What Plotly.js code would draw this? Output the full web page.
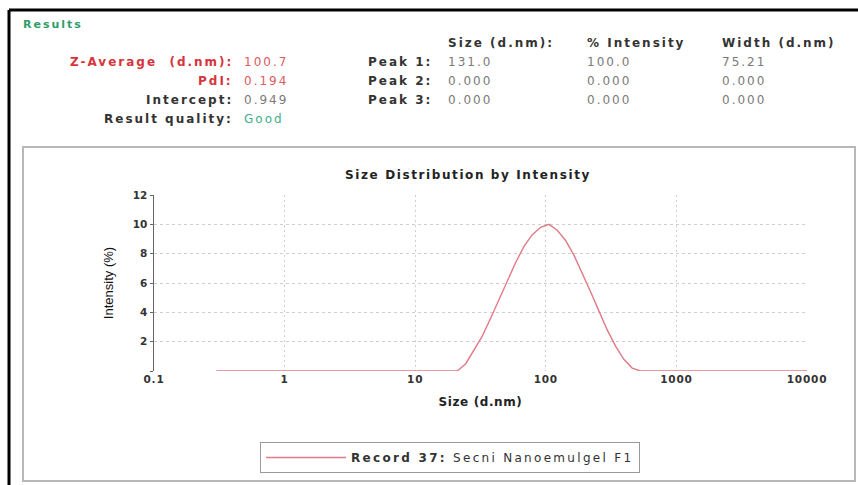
<!DOCTYPE html>
<html>
<head>
<meta charset="utf-8">
<script src="https://cdn.plot.ly/plotly-3.0.1.min.js"></script>
<style>
html,body{margin:0;padding:0;background:#fff;}
#chart{width:858px;height:485px;}
text.annotation-text{letter-spacing:2px;}
text.legendtext{letter-spacing:2.3px;}
text.gtitle{letter-spacing:1.6px;}
text.xtitle{letter-spacing:0.6px;}
g.xtick text{letter-spacing:0.8px;}
</style>
</head>
<body>
<div id="chart"></div>
<script>
// ---- data ----
const sizes = [0.3, 1, 10, 18.2, 21.0, 24.4, 28.2, 32.7, 37.8, 43.8, 50.7, 58.8, 68.1, 78.8, 91.3, 105.7, 122.4, 141.8, 164.2, 190.1, 220.2, 255.0, 295.3, 342.0, 396.1, 458.7, 531.2, 615.1, 1000, 10000];
const intensity = [0, 0, 0, 0, 0, 0.5, 1.4, 2.4, 3.6, 4.9, 6.2, 7.4, 8.5, 9.3, 9.8, 10.0, 9.6, 8.9, 7.9, 6.7, 5.4, 4.1, 2.8, 1.7, 0.8, 0.2, 0, 0, 0, 0];
const seriesName = "<b>Record 37:</b> Secni Nanoemulgel F1";
const xTickVals = [0.1, 1, 10, 100, 1000, 10000];
const xTickText = ["0.1", "1", "10", "100", "1000", "10000"];
const yTickVals = [0, 2, 4, 6, 8, 10, 12];
const yTickText = ["", "2", "4", "6", "8", "10", "12"];

const leftLabels = ["Z-Average\u00a0 (d.nm):", "PdI:", "Intercept:", "Result quality:"];
const leftValues = ["100.7", "0.194", "0.949", "Good"];
const peakLabels = ["Peak 1:", "Peak 2:", "Peak 3:"];
const peakHeaders = ["Size (d.nm):", "% Intensity", "Width (d.nm)"];
const peakSize = ["131.0", "0.000", "0.000"];
const peakIntensity = ["100.0", "0.000", "0.000"];
const peakWidth = ["75.21", "0.000", "0.000"];

// ---- pixel helpers (plot area: x 154..807, y 195..371) ----
const L = 154, R = 807, T = 195, B = 371;
const W = 858, H = 485;
const px = x => (x - L) / (R - L);
const py = y => (B - y) / (B - T);

const FONT = "DejaVu Sans, Verdana, sans-serif";
const ann = [];
function txt(x, y, text, opts) {
  ann.push(Object.assign({
    xref: "paper", yref: "paper", x: px(x), y: py(y), text: text,
    showarrow: false, xanchor: "left", yanchor: "middle",
    font: {family: FONT, size: 12, color: "#333"}
  }, opts || {}));
}

txt(21, 24, "<b>Results</b>", {font: {family: FONT, size: 11, color: "#2f9d6a"}});
const lColors = ["#d7343c", "#d7343c", "#333", "#333"];
const vColors = ["#dc5a62", "#dc5a62", "#7a7a7a", "#43ad8e"];
const rowsY = [62, 81, 100, 119];
leftLabels.forEach((t, i) => {
  txt(235, rowsY[i], "<b>" + t + "</b>", {xanchor: "right", font: {family: FONT, size: 12, color: lColors[i]}});
  txt(242, rowsY[i], leftValues[i], {font: {family: FONT, size: 12, color: vColors[i]}});
});
peakLabels.forEach((t, i) => {
  txt(434, rowsY[i], "<b>" + t + "</b>", {xanchor: "right", font: {family: FONT, size: 12, color: "#333"}});
});
const colX = [446, 585, 720];
peakHeaders.forEach((t, i) => {
  txt(colX[i], 43, "<b>" + t + "</b>", {font: {family: FONT, size: 12, color: "#333"}});
});
[peakSize, peakIntensity, peakWidth].forEach((col, c) => {
  col.forEach((v, i) => txt(colX[c], rowsY[i], v, {font: {family: FONT, size: 12, color: "#7a7a7a"}}));
});

const shapes = [
  // outer black frame (top and left)
  {type: "line", xref: "paper", yref: "paper", x0: px(9), x1: px(858), y0: py(10), y1: py(10), line: {color: "#000", width: 3}},
  {type: "line", xref: "paper", yref: "paper", x0: px(9), x1: px(9), y0: py(10), y1: py(485), line: {color: "#000", width: 3}},
  // inner grey panel
  {type: "rect", xref: "paper", yref: "paper", x0: px(23), x1: px(855), y0: py(147), y1: py(481), line: {color: "#b8b8b8", width: 2}}
];

const trace = {
  x: sizes, y: intensity, type: "scatter", mode: "lines", name: seriesName,
  line: {color: "#e07a86", width: 1.4}, showlegend: true
};

const layout = {
  width: W, height: H,
  margin: {l: L, r: W - R, t: T, b: H - B, pad: 0},
  paper_bgcolor: "#fff", plot_bgcolor: "#fff",
  title: {text: "<b>Size Distribution by Intensity</b>", x: px(468), xref: "paper", xanchor: "center",
          y: 1 - 175 / H, yanchor: "middle", font: {family: FONT, size: 12, color: "#222"}},
  font: {family: FONT, color: "#333"},
  xaxis: {
    type: "log", range: [-1, 4], tickvals: xTickVals, ticktext: xTickText,
    showgrid: true, gridcolor: "#cfcfcf", griddash: "2px,3px", gridwidth: 1,
    zeroline: false, showline: false, ticks: "", ticklen: 0,
    tickfont: {family: FONT, size: 10.5, color: "#333", weight: "bold"},
    title: {text: "<b>Size (d.nm)</b>", font: {family: FONT, size: 12, color: "#222"}, standoff: 14},
    automargin: false
  },
  yaxis: {
    range: [0, 12], tickvals: yTickVals, ticktext: yTickText,
    showgrid: true, gridcolor: "#cfcfcf", griddash: "3px,3px", gridwidth: 1,
    zeroline: false, showline: true, linecolor: "#666", linewidth: 1.5,
    ticks: "outside", ticklen: 3, tickcolor: "#666",
    tickfont: {family: FONT, size: 10.5, color: "#333", weight: "bold"},
    title: {text: "Intensity (%)", font: {family: "Liberation Sans Narrow, Liberation Sans, Arial", size: 13, color: "#111"}, standoff: 16},
    automargin: false
  },
  showlegend: true,
  legend: {
    x: px(260), y: py(442), xanchor: "left", yanchor: "top",
    bordercolor: "#999", borderwidth: 1, bgcolor: "#fff",
    font: {family: FONT, size: 12, color: "#333"},
    itemwidth: 80
  },
  annotations: ann,
  shapes: shapes
};

Plotly.newPlot("chart", [trace], layout, {staticPlot: true, displayModeBar: false});
</script>
</body>
</html>
